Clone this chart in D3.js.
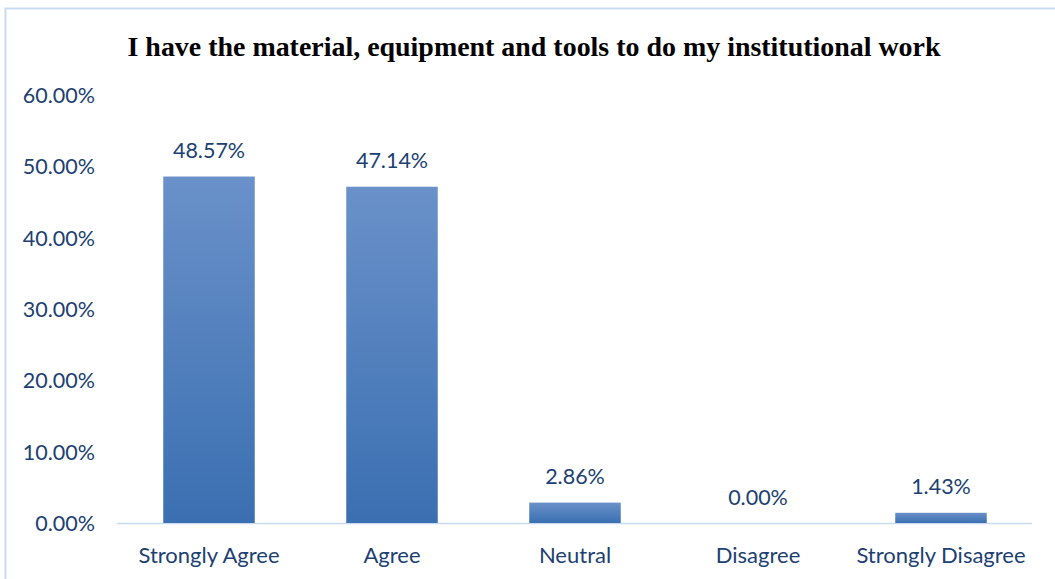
<!DOCTYPE html>
<html><head><meta charset="utf-8">
<script src="https://cdn.jsdelivr.net/npm/d3@7"></script>
<style>html,body{margin:0;padding:0;background:#fff;overflow:hidden}</style>
</head><body>
<svg id="c" width="1055" height="579"></svg>
<script>
const categories = ["Strongly Agree","Agree","Neutral","Disagree","Strongly Disagree"];
const values = [48.57, 47.14, 2.86, 0.00, 1.43];
const tickValues = [0,10,20,30,40,50,60];
const title = "I have the material, equipment and tools to do my institutional work";

const svg = d3.select("#c");
const textColor = "#203f72";
const font = "Lato, 'Open Sans', sans-serif";

const defs = svg.append("defs");
const g = defs.append("linearGradient").attr("id","barGrad").attr("x1",0).attr("y1",0).attr("x2",0).attr("y2",1);
g.append("stop").attr("offset","0%").attr("stop-color","#6a91c9");
g.append("stop").attr("offset","100%").attr("stop-color","#3a6fb1");

svg.append("rect").attr("x",5.5).attr("y",8.5).attr("width",1080).attr("height",600)
  .attr("fill","#fff").attr("stroke","#c9dbf1").attr("stroke-width",2);

const x = d3.scaleBand().domain(categories).range([117.5,1032.5]).paddingInner(0.5).paddingOuter(0.25);
const y = d3.scaleLinear().domain([0,60]).range([523,95]);

svg.append("text").attr("x",534).attr("y",55.5).attr("text-anchor","middle")
  .attr("font-family","'Liberation Serif','Times New Roman',serif").attr("font-weight","bold")
  .attr("font-size",27).attr("fill","#000").attr("textLength",813).attr("lengthAdjust","spacingAndGlyphs").text(title);

const yAxis = d3.axisLeft(y).tickValues(tickValues).tickSize(0).tickPadding(0).tickFormat(d => d3.format(".2f")(d) + "%");
const ya = svg.append("g").attr("transform","translate(95,0)").call(yAxis);
ya.select(".domain").remove();
ya.selectAll("text").attr("font-family",font).attr("font-size",21.5).attr("fill",textColor).attr("dy","0.35em");

svg.append("line").attr("x1",117).attr("x2",1032).attr("y1",y(0)+0.5).attr("y2",y(0)+0.5)
  .attr("stroke","#c9dbf1").attr("stroke-width",1.5);

svg.selectAll("rect.bar").data(values).join("rect").attr("class","bar")
  .attr("x",(d,i)=>x(categories[i])).attr("width",x.bandwidth())
  .attr("y",d=>y(d)).attr("height",d=>y(0)-y(d))
  .attr("fill","url(#barGrad)");

svg.selectAll("text.val").data(values).join("text").attr("class","val")
  .attr("x",(d,i)=>x(categories[i])+x.bandwidth()/2).attr("y",d=>y(d)-18.5)
  .attr("text-anchor","middle").attr("font-family",font).attr("font-size",21.5).attr("fill",textColor)
  .text(d=>d3.format(".2f")(d)+"%");

const xAxis = d3.axisBottom(x).tickSize(0).tickPadding(0);
const xa = svg.append("g").attr("transform",`translate(0,${y(0)})`).call(xAxis);
xa.select(".domain").remove();
xa.selectAll("text").attr("font-family",font).attr("font-size",22).attr("fill",textColor).attr("dy",0).attr("y",39.5);
</script>
</body></html>
